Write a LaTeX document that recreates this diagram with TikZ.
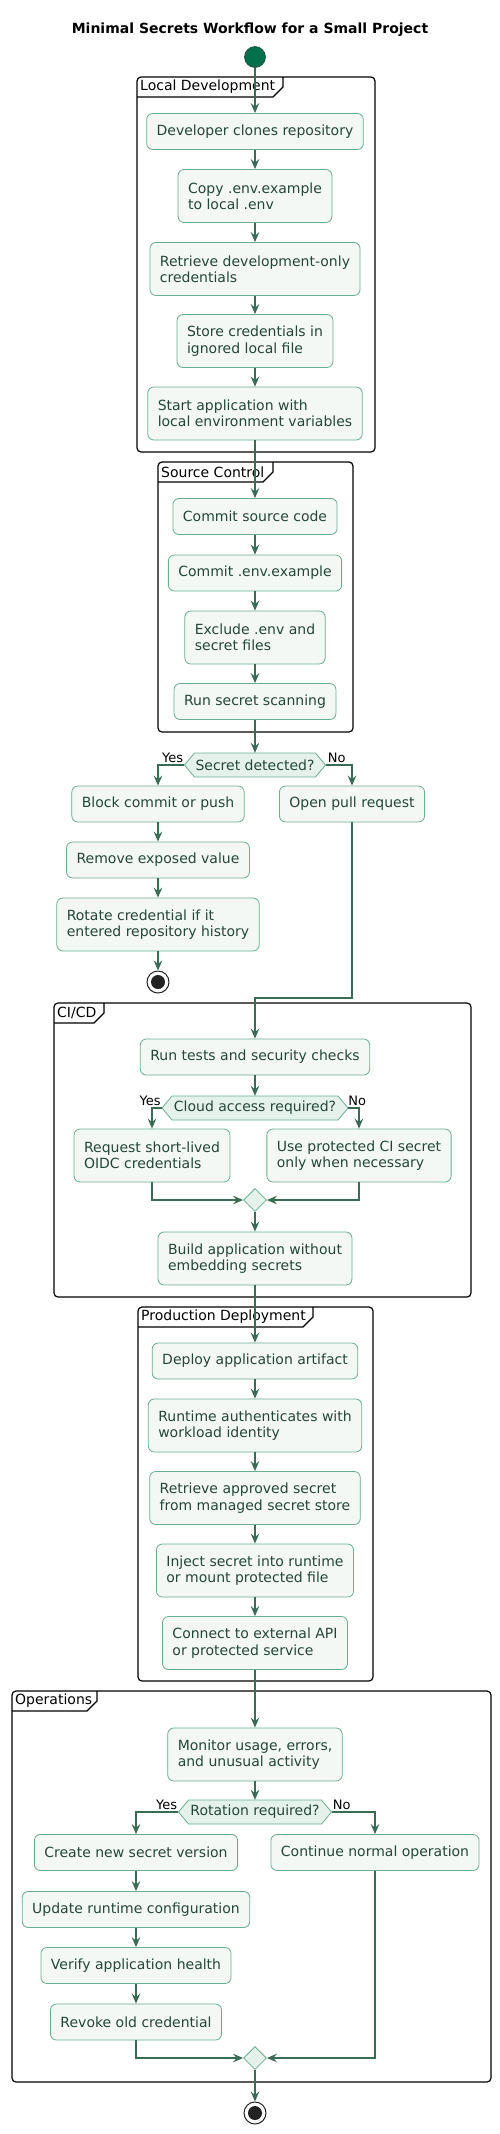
\documentclass[tikz,border=0pt]{standalone}
\usepackage{fontspec}
\setmainfont{DejaVu Sans}
\usetikzlibrary{arrows.meta,shapes.geometric,calc}
\definecolor{boxfill}{HTML}{F3F8F5}
\definecolor{boxline}{HTML}{6AAE90}
\definecolor{txt}{HTML}{24473A}
\definecolor{arrowc}{HTML}{3A6B55}
\definecolor{decfill}{HTML}{E5F2EB}
\definecolor{startc}{HTML}{00704A}
\definecolor{stopc}{HTML}{222222}
\newcommand\hexdec[5]{%
  \path[decshape] ({#2-#4},#3) -- ({#2-#4+10},{#3-12}) -- ({#2+#4-10},{#3-12}) -- ({#2+#4},#3) -- ({#2+#4-10},{#3+12}) -- ({#2-#4+10},{#3+12}) -- cycle;
  \node[dectext, minimum width={2*#4}] (#1) at (#2,#3) {#5};}
\newcommand\myframe[7]{% name, x1,y1,x2,y2, tabright, label
  \draw[frame] (#2,#3) rectangle (#4,#5);
  \draw[tabline] (#2,{#3+20}) -- ({#6-10},{#3+20}) -- (#6,{#3+10}) -- (#6,#3);
  \node[framelbl] (#1) at ({#2+3},{#3+10}) {#7};}
\begin{document}
\begin{tikzpicture}[x=1pt,y=-1pt,
  act/.style={draw=boxline, fill=boxfill, line width=0.8pt, rounded corners=6pt, text=txt,
    font=\fontsize{14}{16.3}\selectfont, inner xsep=10pt, inner ysep=4pt, minimum height=36pt, align=left},
  act2/.style={act, minimum height=53pt},
  dectext/.style={text=txt, font=\fontsize{14}{16.3}\selectfont, inner sep=0pt, minimum height=24pt},
  decshape/.style={draw=boxline, fill=decfill, line width=0.8pt},
  merge/.style={diamond, draw=boxline, fill=decfill, line width=0.8pt, minimum width=23pt, minimum height=23pt, inner sep=0pt},
  arr/.style={draw=arrowc, line width=1.8pt, -{Stealth[length=10pt,width=8.5pt,inset=3.5pt]}},
  lbl/.style={text=black, font=\fontsize{13}{15}\selectfont, inner sep=0pt},
  frame/.style={draw=black, line width=1.2pt, rounded corners=4pt},
  tabline/.style={draw=black, line width=1.2pt},
  framelbl/.style={text=black, font=\fontsize{14}{16}\selectfont, inner sep=0pt, anchor=west},
  startnode/.style={circle, fill=startc, draw=txt, line width=0.6pt, minimum size=21pt, inner sep=0pt},
  stopnode/.style={circle, draw=stopc, fill=white, line width=1pt, minimum size=22pt, inner sep=0pt,
    path picture={\fill[stopc] (path picture bounding box.center) circle (7pt);}},
]
\useasboundingbox (0,0) rectangle (500,2134);

% title
\node[font=\bfseries\fontsize{14}{16}\selectfont, anchor=base, inner sep=0pt] (title) at (250,33) {Minimal Secrets Workflow for a Small Project};

% frames
\myframe{fLocal}{137}{77}{375}{452}{283}{Local Development}
\myframe{fSource}{158}{462}{353}{732}{273}{Source Control}
\myframe{fCI}{54}{1003}{471}{1297}{104}{CI/CD}
\myframe{fProd}{138}{1307}{373}{1681}{313}{Production Deployment}
\myframe{fOps}{12}{1691}{491}{2082}{97}{Operations}

% nodes
\node[startnode] (start) at (255,57) {};
\node[act] (b1) at (255,131.5) {Developer clones repository};
\node[act2] (b2) at (255,196) {Copy .env.example\\to local .env};
\node[act2] (b3) at (255,269) {Retrieve development-only\\credentials};
\node[act2] (b4) at (255,341) {Store credentials in\\ignored local file};
\node[act2] (b5) at (255,413.5) {Start application with\\local environment variables};

\node[act] (c1) at (255,516.5) {Commit source code};
\node[act] (c2) at (255,573) {Commit .env.example};
\node[act2] (c3) at (255,637.5) {Exclude .env and\\secret files};
\node[act] (c4) at (255,701.5) {Run secret scanning};

\hexdec{d1}{255}{765}{70.5}{Secret detected?}
\node[lbl, anchor=base east] (yes1) at ($(d1.west)+(-1,-2.5)$) {Yes};
\node[lbl, anchor=base west] (no1) at ($(d1.east)+(2,-2.5)$) {No};

\node[act] (y1) at (158,804) {Block commit or push};
\node[act] (y2) at (158,860) {Remove exposed value};
\node[act2] (y3) at (158,924.5) {Rotate credential if it\\entered repository history};
\node[stopnode] (stop1) at (158,982) {};
\node[act] (n1) at (352,804) {Open pull request};
\coordinate (j1) at (352,998);

\node[act] (e1) at (255,1057) {Run tests and security checks};
\hexdec{d2}{255}{1108}{93}{Cloud access required?}
\node[lbl, anchor=base east] (yes2) at ($(d2.west)+(-1,-2.5)$) {Yes};
\node[lbl, anchor=base west] (no2) at ($(d2.east)+(0,-2.5)$) {No};
\node[act2] (e2) at (152,1155.5) {Request short-lived\\OIDC credentials};
\node[act2] (e3) at (359,1155.5) {Use protected CI secret\\only when necessary};
\node[merge] (m1) at (255,1200) {};
\node[act2] (e4) at (255,1258.5) {Build application without\\embedding secrets};

\node[act] (p1) at (255,1361) {Deploy application artifact};
\node[act2] (p2) at (255,1425.5) {Runtime authenticates with\\workload identity};
\node[act2] (p3) at (255,1498) {Retrieve approved secret\\from managed secret store};
\node[act2] (p4) at (255,1570.5) {Inject secret into runtime\\or mount protected file};
\node[act2] (p5) at (255,1643) {Connect to external API\\or protected service};

\node[act2] (o1) at (255,1754.5) {Monitor usage, errors,\\and unusual activity};
\hexdec{d3}{255}{1812}{76.5}{Rotation required?}
\node[lbl, anchor=base east] (yes3) at ($(d3.west)+(-1,-2.5)$) {Yes};
\node[lbl, anchor=base west] (no3) at ($(d3.east)+(1,-2.5)$) {No};
\node[act] (o2) at (136,1852.5) {Create new secret version};
\node[act] (o3) at (375,1852.5) {Continue normal operation};
\node[act] (o4) at (136,1909.5) {Update runtime configuration};
\node[act] (o5) at (136,1965.5) {Verify application health};
\node[act] (o6) at (136,2022) {Revoke old credential};
\node[merge] (m2) at (255,2058) {};
\node[stopnode] (stop2) at (255,2113) {};

% connectors
\draw[arr] (start) -- (b1);
\draw[arr] (b1) -- (b2);
\draw[arr] (b2) -- (b3);
\draw[arr] (b3) -- (b4);
\draw[arr] (b4) -- (b5);
\draw[arr] (b5) -- (c1);
\draw[arr] (c1) -- (c2);
\draw[arr] (c2) -- (c3);
\draw[arr] (c3) -- (c4);
\draw[arr] (c4) -- (d1.north);
\draw[arr] (d1.west) -| (y1.north);
\draw[arr] (d1.east) -| (n1.north);
\draw[arr] (y1) -- (y2);
\draw[arr] (y2) -- (y3);
\draw[arr] (y3) -- (stop1);
\draw[arr] (n1.south) -- (j1) -| (e1.north);
\draw[arr] (e1) -- (d2.north);
\draw[arr] (d2.west) -| (e2.north);
\draw[arr] (d2.east) -| (e3.north);
\draw[arr] (e2.south) |- (m1.west);
\draw[arr] (e3.south) |- (m1.east);
\draw[arr] (m1) -- (e4);
\draw[arr] (e4) -- (p1);
\draw[arr] (p1) -- (p2);
\draw[arr] (p2) -- (p3);
\draw[arr] (p3) -- (p4);
\draw[arr] (p4) -- (p5);
\draw[arr] (p5) -- (o1);
\draw[arr] (o1) -- (d3.north);
\draw[arr] (d3.west) -| (o2.north);
\draw[arr] (d3.east) -| (o3.north);
\draw[arr] (o2) -- (o4);
\draw[arr] (o4) -- (o5);
\draw[arr] (o5) -- (o6);
\draw[arr] (o6.south) |- (m2.west);
\draw[arr] (o3.south) |- (m2.east);
\draw[arr] (m2) -- (stop2);
\end{tikzpicture}
\end{document}
